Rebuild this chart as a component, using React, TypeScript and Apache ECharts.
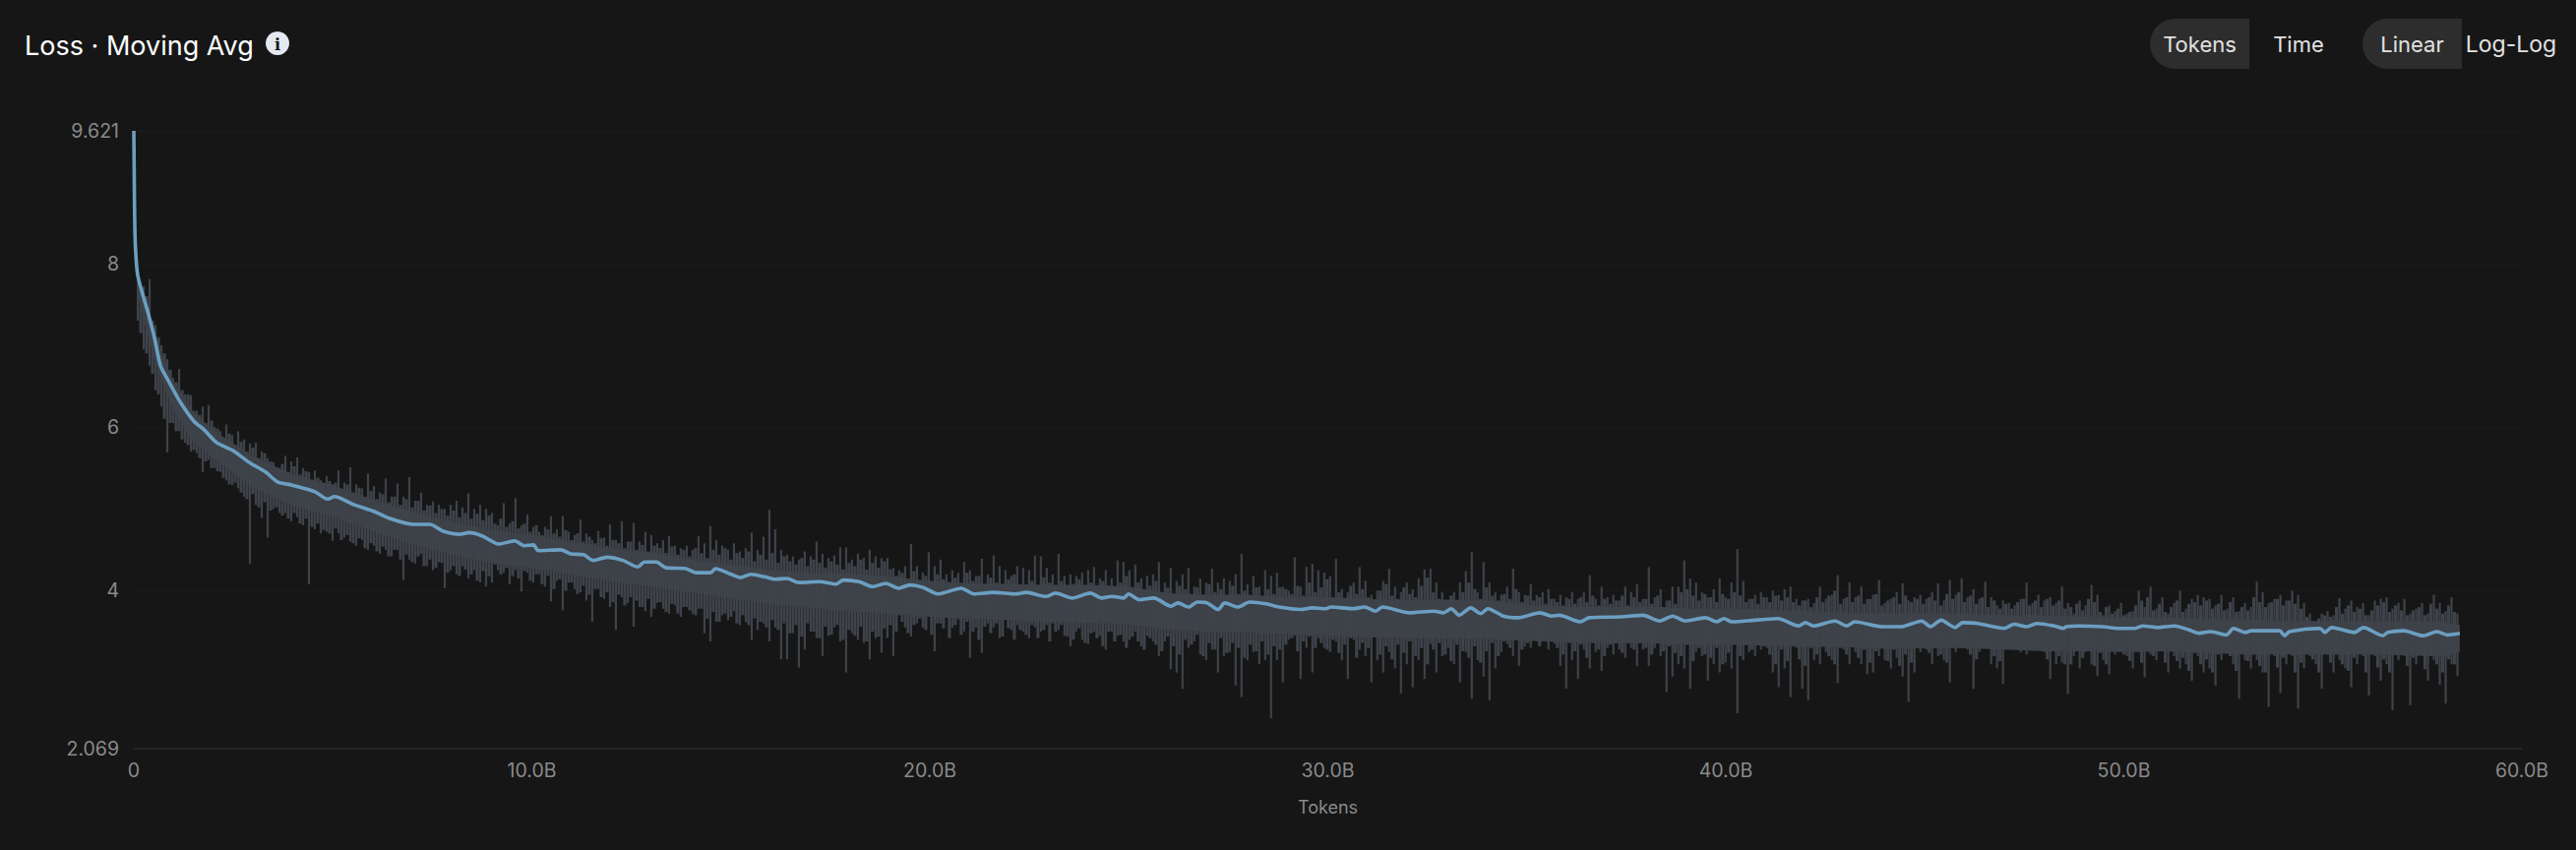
import React, { useEffect, useRef } from "react";
import * as echarts from "echarts";

const avgTokens = [0,0.01,0.02,0.04,0.10,0.35,0.52,0.67,0.91,1.16,1.51,1.76,2.08,2.50,2.89,3.31,3.61,3.98,4.55,4.87,5.04,5.54,6.03,6.45,7.02,7.44,7.76,8.18,8.43,8.75,9.17,
9.57,9.81,10.04,10.16,10.73,10.98,11.30,11.54,11.89,12.29,12.66,12.83,13.13,13.37,13.87,14.12,14.49,14.61,15.01,15.25,15.50,15.85,16.12,16.41,16.71,17.23,17.65,17.82,18.22,18.56,18.89,
19.21,19.50,19.83,20.20,20.79,21.11,21.61,22.15,22.42,22.92,23.16,23.58,24.03,24.32,24.57,24.87,24.99,25.26,25.63,26.06,26.23,26.50,26.72,26.97,27.24,27.41,27.74,28.03,28.45,28.77,
29.32,29.59,29.94,30.08,30.63,30.92,31.20,31.37,32.06,32.66,32.90,33.10,33.30,33.59,33.84,34.02,34.41,34.78,35.33,35.62,35.82,36.34,36.56,37.35,37.92,38.34,38.66,
38.98,39.48,39.77,39.95,40.15,41.31,41.83,42.00,42.20,42.74,43.04,43.24,43.93,44.40,44.92,45.14,45.41,45.76,45.95,46.33,46.99,47.24,47.56,47.81,48.25,48.48,
48.55,48.87,49.47,49.86,50.28,50.48,50.85,51.27,51.64,51.89,52.18,52.58,52.75,53.05,53.20,53.91,54.04,54.16,54.93,55.05,55.22,55.79,56.02,56.51,56.63,57.03,57.52,57.87,58.12,58.44];

const avgLoss = [9.621,9.1,8.6,8.21,7.85,7.41,7.09,6.75,6.53,6.31,6.07,5.97,5.81,5.71,5.57,5.45,5.33,5.29,5.21,5.12,5.15,5.05,4.97,4.88,4.81,4.81,4.73,4.69,4.71,4.67,4.57,
4.61,4.55,4.56,4.49,4.50,4.45,4.44,4.37,4.41,4.37,4.29,4.35,4.35,4.28,4.27,4.22,4.22,4.27,4.20,4.16,4.20,4.17,4.14,4.15,4.10,4.11,4.08,4.13,4.11,4.05,4.09,
4.03,4.07,4.04,3.96,4.03,3.96,3.98,3.96,3.98,3.93,3.97,3.91,3.97,3.91,3.93,3.91,3.96,3.89,3.91,3.81,3.85,3.80,3.86,3.85,3.77,3.85,3.80,3.86,3.84,3.80,
3.77,3.79,3.78,3.80,3.78,3.80,3.75,3.80,3.73,3.75,3.73,3.78,3.70,3.79,3.72,3.78,3.69,3.67,3.73,3.69,3.70,3.62,3.67,3.68,3.70,3.63,3.69,
3.63,3.67,3.62,3.66,3.62,3.66,3.57,3.61,3.57,3.63,3.57,3.62,3.56,3.56,3.63,3.56,3.64,3.55,3.61,3.60,3.54,3.59,3.56,3.60,3.57,3.54,
3.56,3.57,3.56,3.54,3.54,3.57,3.55,3.57,3.52,3.48,3.50,3.46,3.54,3.49,3.51,3.51,3.45,3.50,3.54,3.49,3.55,3.49,3.55,3.45,3.49,3.51,3.45,3.50,3.46,3.48];

const coreTokens = [0.1,0.5,1,1.5,2,3,4,5,6,7,8,9,10,11,12,13,14,15,16,17,18,19,20,21,22,23,24,25,26,27,28,29,30,31,32,33,34,35,36,37,38,39,40,41,42,43,44,45,46,47,48,49,50,51,52,53,54,55,56,57,58,58.44];
const coreHigh = [7.85,7.14,6.55,6.18,5.96,5.64,5.42,5.29,5.11,4.96,4.84,4.74,4.68,4.60,4.51,4.47,4.38,4.32,4.25,4.22,4.21,4.17,4.12,4.09,4.08,4.07,4.07,4.05,3.97,3.95,3.95,3.92,3.92,3.90,3.88,3.89,3.88,3.83,3.80,3.80,3.81,3.78,3.78,3.77,3.75,3.73,3.73,3.73,3.72,3.70,3.70,3.68,3.67,3.67,3.65,3.65,3.63,3.63,3.63,3.63,3.62,3.58];
const coreLow = [7.6,6.85,6.2,5.82,5.62,5.26,5.04,4.9,4.73,4.57,4.44,4.34,4.28,4.2,4.12,4.05,3.98,3.91,3.84,3.79,3.75,3.72,3.68,3.66,3.64,3.62,3.61,3.59,3.52,3.5,3.49,3.47,3.45,3.43,3.42,3.42,3.41,3.39,3.37,3.36,3.36,3.34,3.34,3.33,3.32,3.31,3.29,3.3,3.3,3.28,3.26,3.26,3.25,3.26,3.24,3.22,3.22,3.22,3.22,3.21,3.2,3.25];

const rawStart = 0.1;
const rawStep = 0.1483;
const rawHigh = [
7.80,7.72,7.81,7.25,7.00,6.83,6.60,6.71,6.40,6.39,6.20,6.25,6.27,6.00,5.95,6.03,5.90,5.95,5.85,5.80,5.81,5.70,5.62,5.57,5.50,5.65,5.58,5.63,5.50,5.45,5.47,5.35,5.40,5.30,5.47,5.32,5.51,5.30,5.25,5.43,5.28,5.20,5.37,5.15,5.31,5.15,5.39,5.10,5.20,5.05,5.09,5.05,5.00,5.05,5.10,5.02,5.19,5.00,5.05,5.00,
4.95,4.80,5.07,4.82,5.13,4.80,4.93,4.78,4.72,4.78,4.91,4.75,4.91,4.72,4.68,4.87,4.70,4.62,4.73,4.65,4.81,4.62,4.85,4.60,4.83,4.60,4.72,4.68,4.58,4.62,4.67,4.55,4.52,4.55,4.50,4.67,4.58,4.79,4.62,4.55,4.50,4.58,4.48,4.52,4.71,4.50,4.66,4.99,4.75,4.50,4.44,4.42,4.38,4.48,4.42,4.60,4.45,4.40,4.43,4.53,4.53,4.38,4.45,4.40,4.50,4.42,4.40,
4.40,4.28,4.25,4.30,4.57,4.30,4.22,4.47,4.30,4.38,4.20,4.25,4.22,4.35,4.25,4.18,4.39,4.20,4.43,4.30,4.25,4.18,4.30,4.28,4.25,4.43,4.42,4.28,4.20,4.45,4.18,4.20,4.18,4.22,4.25,4.29,4.15,4.25,4.15,4.37,4.35,4.25,4.32,4.15,4.18,4.20,4.35,4.10,4.28,4.12,4.20,4.28,4.05,4.15,4.10,4.27,4.10,4.15,4.12,4.20,4.45,4.08,4.18,4.05,4.25,4.18,4.22,
4.05,4.00,4.41,4.05,4.29,4.33,4.25,4.22,4.18,4.39,4.02,3.98,4.10,4.29,4.12,3.95,4.00,4.12,4.27,4.05,3.98,4.10,4.02,4.15,4.26,4.27,4.10,3.98,3.88,3.98,4.10,4.24,4.47,3.98,4.35,4.10,3.98,3.95,4.05,4.27,3.98,3.95,4.08,3.95,3.98,4.02,3.90,3.95,3.92,3.98,3.90,3.98,4.19,3.90,4.05,3.92,3.95,3.88,4.05,3.98,4.08,3.90,4.29,3.92,4.02,3.88,4.05,
4.05,4.37,4.15,4.10,3.98,3.92,4.02,4.15,3.92,4.10,4.51,4.12,3.90,3.95,3.98,3.92,4.00,3.95,4.02,4.05,3.90,3.88,3.90,3.85,4.05,3.90,3.95,4.19,3.90,4.10,3.92,4.05,3.90,3.95,4.13,3.85,3.90,3.98,4.09,3.88,3.92,3.95,3.90,3.98,4.09,3.88,4.13,3.95,4.15,3.92,4.02,3.90,4.11,3.92,3.82,3.88,3.85,3.82,3.90,4.10,3.85,3.95,3.88,3.92,3.85,4.05,
3.85,3.72,3.88,3.82,4.07,3.95,3.70,3.82,3.75,3.85,3.72,3.75,4.00,3.80,4.05,3.78,3.92,3.72,3.85,4.00,3.78,3.90,3.95,3.92,3.90,3.82,3.95,3.78,3.92,3.75,3.85,3.80,4.11,3.98,3.85,3.90,3.95,3.88,4.00,3.95,3.85,3.72,3.60,3.72,3.75,3.70,3.91,3.78,3.88,3.80,3.85,3.70,3.88,3.90,3.92,3.78,3.85,3.90,3.72,3.78,3.85,3.72,3.95,3.85,3.75,3.92,3.72];
const rawLow = [
7.30,6.95,6.75,6.45,6.25,5.69,6.05,5.95,5.81,5.70,5.68,5.45,5.60,5.50,5.45,5.35,5.29,5.25,5.15,4.33,5.05,4.89,4.65,5.00,4.95,4.95,4.85,4.90,4.80,4.08,4.75,4.70,4.72,4.61,4.70,4.65,4.60,4.55,4.62,4.50,4.55,4.45,4.50,4.42,4.50,4.13,4.38,4.33,4.45,4.30,4.25,4.35,4.03,4.25,4.20,4.30,4.15,4.25,4.10,4.05,
4.10,4.25,4.22,4.08,4.25,3.99,4.22,4.10,4.20,4.05,3.87,4.12,3.76,4.10,4.02,3.98,3.88,3.62,4.02,3.90,3.80,3.52,3.92,3.85,3.56,3.80,3.75,3.68,3.85,3.78,3.72,3.82,3.68,3.80,3.72,3.78,3.48,3.38,3.62,3.70,3.64,3.75,3.58,3.62,3.40,3.52,3.60,3.38,3.55,3.16,3.16,3.48,3.06,3.28,3.50,3.42,3.20,3.45,3.55,3.38,3.00,3.48,3.40,3.36,3.16,3.42,3.24,
3.42,3.20,3.70,3.55,3.44,3.60,3.55,3.75,3.26,3.60,3.68,3.55,3.65,3.50,3.18,3.55,3.24,3.60,3.55,3.42,3.65,3.52,3.58,3.50,3.42,3.55,3.50,3.58,3.60,3.52,3.45,3.32,3.50,3.40,3.35,3.50,3.45,3.28,3.50,3.45,3.38,3.40,3.50,3.32,3.45,3.38,3.20,3.38,3.04,3.00,2.80,3.30,3.38,3.22,3.15,3.28,3.00,3.20,3.25,2.84,2.70,3.15,3.25,3.10,3.15,2.44,3.15,
2.88,3.40,3.45,2.92,3.30,3.00,3.42,3.30,3.25,3.38,3.15,2.92,3.40,3.28,3.20,2.88,3.15,3.00,3.25,3.05,2.74,3.10,2.82,3.15,2.92,3.35,3.00,3.20,3.30,3.10,2.88,3.25,2.68,3.15,2.95,2.66,3.05,3.25,3.35,3.20,3.08,3.32,3.30,3.38,3.40,3.28,3.35,3.08,2.80,3.15,2.92,3.28,3.05,3.25,3.02,3.30,3.22,3.28,3.18,3.30,3.08,3.28,3.08,3.30,3.20,2.76,2.95,
3.10,3.05,2.80,3.25,3.20,2.90,3.10,3.00,3.12,3.05,2.50,3.15,3.25,3.20,3.28,3.30,3.00,2.82,3.05,2.70,3.30,2.80,2.66,3.15,3.10,3.25,3.15,2.87,3.28,3.10,3.25,3.10,2.98,3.00,3.20,3.15,3.05,3.18,2.95,2.64,3.00,3.25,3.28,3.10,3.20,3.15,2.88,3.25,3.30,3.28,2.80,3.25,3.30,3.10,3.05,2.86,3.30,3.32,3.25,3.22,3.30,3.28,3.25,2.92,3.10,3.12,
2.74,3.20,3.05,3.25,3.10,2.96,3.15,2.98,3.22,3.30,3.20,3.05,3.25,2.94,3.22,3.15,3.30,3.00,3.20,3.05,3.10,2.90,3.20,3.00,3.05,2.84,3.15,3.30,3.10,2.68,3.15,3.05,3.15,3.00,2.58,3.20,2.75,3.10,3.20,2.56,3.05,3.20,3.10,2.80,3.22,3.00,3.15,3.05,2.82,3.10,3.20,2.72,3.20,2.90,3.10,2.54,3.15,3.20,2.60,3.10,3.20,2.90,3.15,2.85,2.62,3.10,2.96];

const midHigh = [
7.55,7.60,7.30,7.10,6.90,6.70,6.55,6.45,6.40,6.20,6.15,6.05,6.08,5.98,5.85,5.92,5.78,5.82,5.70,5.75,5.62,5.68,5.58,5.50,5.55,5.45,5.52,5.42,5.46,5.35,5.38,5.28,5.34,5.32,5.24,5.30,5.20,5.26,5.15,5.22,5.12,5.18,5.08,5.15,5.05,5.12,5.02,5.10,4.98,5.04,4.95,5.00,4.92,4.98,4.90,4.95,4.88,4.94,4.86,4.92,
4.82,4.88,4.78,4.85,4.76,4.82,4.72,4.80,4.68,4.75,4.70,4.66,4.74,4.62,4.70,4.60,4.66,4.58,4.64,4.55,4.62,4.58,4.52,4.60,4.50,4.56,4.48,4.55,4.52,4.46,4.54,4.44,4.50,4.42,4.52,4.46,4.40,4.50,4.44,4.52,4.38,4.46,4.40,4.48,4.36,4.44,4.38,4.46,4.34,4.42,4.36,4.32,4.40,4.30,4.38,4.34,4.28,4.36,4.32,4.26,4.34,4.30,4.38,4.26,4.34,4.28,4.36,
4.26,4.18,4.22,4.14,4.24,4.12,4.18,4.10,4.20,4.14,4.08,4.16,4.06,4.22,4.12,4.18,4.06,4.16,4.10,4.04,4.14,4.20,4.08,4.02,4.12,4.06,4.16,4.10,4.04,4.12,4.00,4.08,4.14,4.04,4.10,3.98,4.12,4.06,4.00,4.10,4.18,4.04,4.10,4.00,4.06,4.12,3.98,4.04,3.94,4.06,4.02,3.96,4.04,3.92,4.08,3.98,4.02,3.94,4.06,3.96,4.00,3.94,4.04,3.92,4.02,3.96,4.04,
4.02,3.96,4.06,3.94,4.10,3.98,4.04,4.14,3.92,3.98,3.90,4.06,3.96,4.02,3.92,3.88,4.00,4.08,3.94,3.90,4.04,3.96,3.92,4.06,4.16,3.98,3.90,3.84,3.94,3.88,3.98,4.10,4.02,3.90,4.04,3.94,3.88,3.96,3.90,4.02,3.86,3.94,3.88,3.92,3.84,3.90,3.86,3.82,3.90,3.84,3.92,3.86,3.94,3.82,3.90,3.84,3.88,3.94,3.82,3.92,3.86,3.90,3.84,3.94,3.80,3.88,3.84,
3.98,4.02,3.94,3.88,3.96,3.92,3.86,3.96,3.90,3.98,3.94,3.86,3.90,3.84,3.92,3.86,3.94,3.88,3.92,3.86,3.82,3.88,3.80,3.92,3.86,3.94,4.00,3.84,3.92,3.86,3.94,3.84,3.90,3.96,3.82,3.88,3.92,3.84,3.94,3.86,3.90,3.84,3.92,3.88,3.82,3.96,3.90,3.98,3.86,3.94,3.84,3.92,3.80,3.88,3.78,3.84,3.78,3.86,3.90,3.82,3.88,3.80,3.90,3.82,3.88,3.78,
3.80,3.84,3.76,3.90,3.86,3.74,3.80,3.72,3.78,3.70,3.74,3.82,3.88,3.92,3.76,3.84,3.74,3.80,3.88,3.74,3.84,3.86,3.82,3.88,3.78,3.84,3.76,3.86,3.74,3.80,3.76,3.92,3.86,3.80,3.86,3.90,3.82,3.88,3.84,3.78,3.68,3.62,3.66,3.70,3.68,3.80,3.72,3.82,3.74,3.78,3.70,3.76,3.82,3.86,3.74,3.82,3.76,3.70,3.76,3.80,3.70,3.84,3.78,3.72,3.82,3.74];
const midLow = [
7.15,6.90,6.65,6.40,6.10,6.05,5.95,5.85,5.78,5.72,5.62,5.58,5.50,5.46,5.38,5.30,5.32,5.20,5.12,5.18,5.02,5.08,4.98,5.02,4.92,4.88,4.95,4.82,4.88,4.78,4.82,4.74,4.70,4.76,4.62,4.68,4.58,4.64,4.52,4.58,4.48,4.54,4.42,4.50,4.38,4.44,4.35,4.42,4.30,4.38,4.28,4.34,4.22,4.30,4.18,4.26,4.20,4.12,4.24,4.18,
4.32,4.20,4.28,4.18,4.15,4.24,4.12,4.20,4.08,4.18,4.02,4.14,4.00,4.10,3.96,4.06,3.95,4.02,3.92,3.98,3.86,3.95,3.82,3.92,3.88,3.80,3.90,3.78,3.86,3.74,3.84,3.72,3.80,3.76,3.70,3.78,3.66,3.74,3.62,3.72,3.68,3.60,3.70,3.58,3.66,3.62,3.55,3.64,3.52,3.60,3.48,3.58,3.44,3.60,3.50,3.42,3.56,3.46,3.58,3.40,3.52,3.45,3.56,3.38,3.50,3.44,3.54,
3.58,3.50,3.62,3.48,3.58,3.66,3.52,3.46,3.60,3.54,3.42,3.58,3.46,3.62,3.50,3.40,3.56,3.48,3.60,3.44,3.54,3.40,3.52,3.46,3.58,3.42,3.52,3.38,3.50,3.58,3.44,3.40,3.54,3.36,3.48,3.42,3.32,3.50,3.38,3.46,3.30,3.44,3.38,3.28,3.42,3.34,3.26,3.44,3.32,3.22,3.40,3.34,3.46,3.20,3.36,3.28,3.42,3.24,3.36,3.30,3.18,3.34,3.26,3.38,3.22,3.32,3.28,
3.34,3.42,3.26,3.38,3.44,3.30,3.36,3.28,3.40,3.24,3.34,3.42,3.18,3.36,3.30,3.44,3.22,3.32,3.16,3.34,3.24,3.38,3.20,3.30,3.10,3.28,3.36,3.22,3.14,3.34,3.26,3.18,3.32,3.12,3.26,3.36,3.20,3.38,3.30,3.42,3.28,3.36,3.44,3.32,3.38,3.46,3.30,3.22,3.36,3.26,3.34,3.18,3.36,3.28,3.20,3.34,3.40,3.24,3.36,3.28,3.38,3.30,3.22,3.38,3.26,3.32,3.24,
3.20,3.34,3.14,3.30,3.22,3.18,3.30,3.10,3.24,3.36,3.20,3.34,3.28,3.38,3.32,3.22,3.10,3.28,3.14,3.32,3.16,3.08,3.30,3.22,3.34,3.20,3.10,3.30,3.22,3.36,3.18,3.28,3.12,3.26,3.30,3.14,3.28,3.08,3.22,3.12,3.30,3.36,3.24,3.30,3.22,3.12,3.32,3.38,3.36,3.22,3.16,3.34,3.38,3.20,3.14,3.32,3.38,3.36,3.34,3.38,3.36,3.30,3.16,3.26,3.20,3.10,
3.10,3.26,3.18,3.30,3.08,3.24,3.10,3.28,3.34,3.22,3.14,3.30,3.12,3.28,3.20,3.34,3.12,3.26,3.14,3.18,3.02,3.24,3.10,3.16,3.00,3.22,3.34,3.20,3.02,3.24,3.14,3.22,3.08,3.00,3.26,3.06,3.18,3.24,3.00,3.12,3.26,3.16,3.00,3.26,3.12,3.22,3.10,3.02,3.18,3.24,3.00,3.26,3.06,3.16,3.00,3.22,3.26,3.08,3.18,3.26,3.04,3.20,3.10,3.00,3.16,3.10];

const yTicks = [2.069, 4, 6, 8, 9.621];
const FONT = "Inter, 'Noto Sans', sans-serif";
const BAND = "#3e4249";

const columnSeries = (high: number[], low: number[], offset: number, width: number) => ({
  type: "custom",
  silent: true,
  coordinateSystem: "cartesian2d",
  z: 2,
  encode: { x: 0, y: [1, 2] },
  data: high.map((h, i) => [rawStart + offset + i * rawStep, low[i], h]),
  renderItem: (_: any, api: any) => {
    const a = api.coord([api.value(0), api.value(1)]);
    const b = api.coord([api.value(0), api.value(2)]);
    return {
      type: "line",
      shape: { x1: a[0], y1: a[1], x2: b[0], y2: b[1] },
      style: { stroke: BAND, lineWidth: width },
    };
  },
});

export default function App() {
  const ref = useRef<HTMLDivElement>(null);
  useEffect(() => {
    const chart = echarts.init(ref.current!, undefined, { renderer: "svg" });
    const pill = (x: number, w: number, label: string) => ({
      type: "group",
      silent: true,
      children: [
        { type: "rect", shape: { x, y: 19, width: w, height: 51, r: [25.5, 0, 0, 25.5] }, style: { fill: "#2d2d2d" } },
        { type: "text", style: { x: x + w / 2, y: 44.5, text: label, fill: "#e2e2e2", font: `400 22px ${FONT}`, align: "center", verticalAlign: "middle" } },
      ],
    });
    const label = (x: number, text: string, size: number) => ({
      type: "text",
      silent: true,
      style: { x, y: 44.5, text, fill: "#e2e2e2", font: `400 ${size}px ${FONT}`, align: "center", verticalAlign: "middle" },
    });
    chart.setOption({
      animation: false,
      backgroundColor: "#161616",
      title: {
        text: "Loss · Moving Avg",
        left: 20,
        top: 24,
        textStyle: { color: "#ffffff", fontFamily: "Inter", fontSize: 27, fontWeight: 400, lineHeight: 34 },
      },
      grid: { left: 136, right: 55, top: 133, bottom: 103, containLabel: false },
      xAxis: {
        type: "value",
        min: 0,
        max: 60,
        interval: 10,
        name: "Tokens",
        nameLocation: "middle",
        nameGap: 50,
        nameTextStyle: { color: "#8a8a8a", fontFamily: FONT, fontSize: 18 },
        axisLine: { show: true, lineStyle: { color: "#262626", width: 2 } },
        axisTick: { show: false },
        splitLine: { show: false },
        axisLabel: {
          color: "#8a8a8a",
          fontFamily: FONT,
          fontSize: 19.5,
          margin: 12,
          hideOverlap: false,
          formatter: (v: number) => (v === 0 ? "0" : `${v.toFixed(1)}B`),
        },
      },
      yAxis: {
        type: "value",
        min: 2.069,
        max: 9.621,
        axisLine: { show: false },
        axisTick: { show: false, customValues: yTicks },
        splitLine: { show: true, lineStyle: { color: "#1b1b1b", width: 1 } },
        axisLabel: {
          customValues: yTicks,
          color: "#8a8a8a",
          fontFamily: FONT,
          fontSize: 19.5,
          margin: 15,
          formatter: (v: number) => String(v),
        },
      },
      series: [
        {
          type: "custom",
          silent: true,
          coordinateSystem: "cartesian2d",
          z: 1,
          encode: { x: 0, y: [1, 2] },
          data: coreTokens.map((t, i) => [t, coreLow[i], coreHigh[i]]),
          renderItem: (params: any, api: any) => {
            if (params.dataIndex !== 0) return null;
            const top = coreTokens.map((t, i) => api.coord([t, coreHigh[i]]));
            const bottom = coreTokens.map((t, i) => api.coord([t, coreLow[i]])).reverse();
            return { type: "polygon", shape: { points: top.concat(bottom) }, style: { fill: BAND } };
          },
        },
        columnSeries(midHigh, midLow, rawStep / 2, 3.2),
        columnSeries(rawHigh, rawLow, 0, 2.2),
        {
          type: "line",
          silent: true,
          z: 3,
          symbol: "none",
          smooth: 0.25,
          data: avgTokens.map((t, i) => [t, avgLoss[i]]),
          lineStyle: { color: "#6b9fc2", width: 3.6, join: "round" },
        },
      ],
      graphic: [
        { type: "circle", silent: true, shape: { cx: 282, cy: 44, r: 12 }, style: { fill: "#e4e9f1" } },
        { type: "text", silent: true, style: { x: 282, y: 45, text: "i", fill: "#161616", font: `700 16px 'DejaVu Serif', serif`, align: "center", verticalAlign: "middle" } },
        pill(2185, 101, "Tokens"),
        label(2336, "Time", 22),
        pill(2401, 101, "Linear"),
        label(2552, "Log-Log", 23),
      ],
    });
    return () => chart.dispose();
  }, []);
  return <div ref={ref} style={{ position: "absolute", left: 0, top: 0, width: 2618, height: 864 }} />;
}
